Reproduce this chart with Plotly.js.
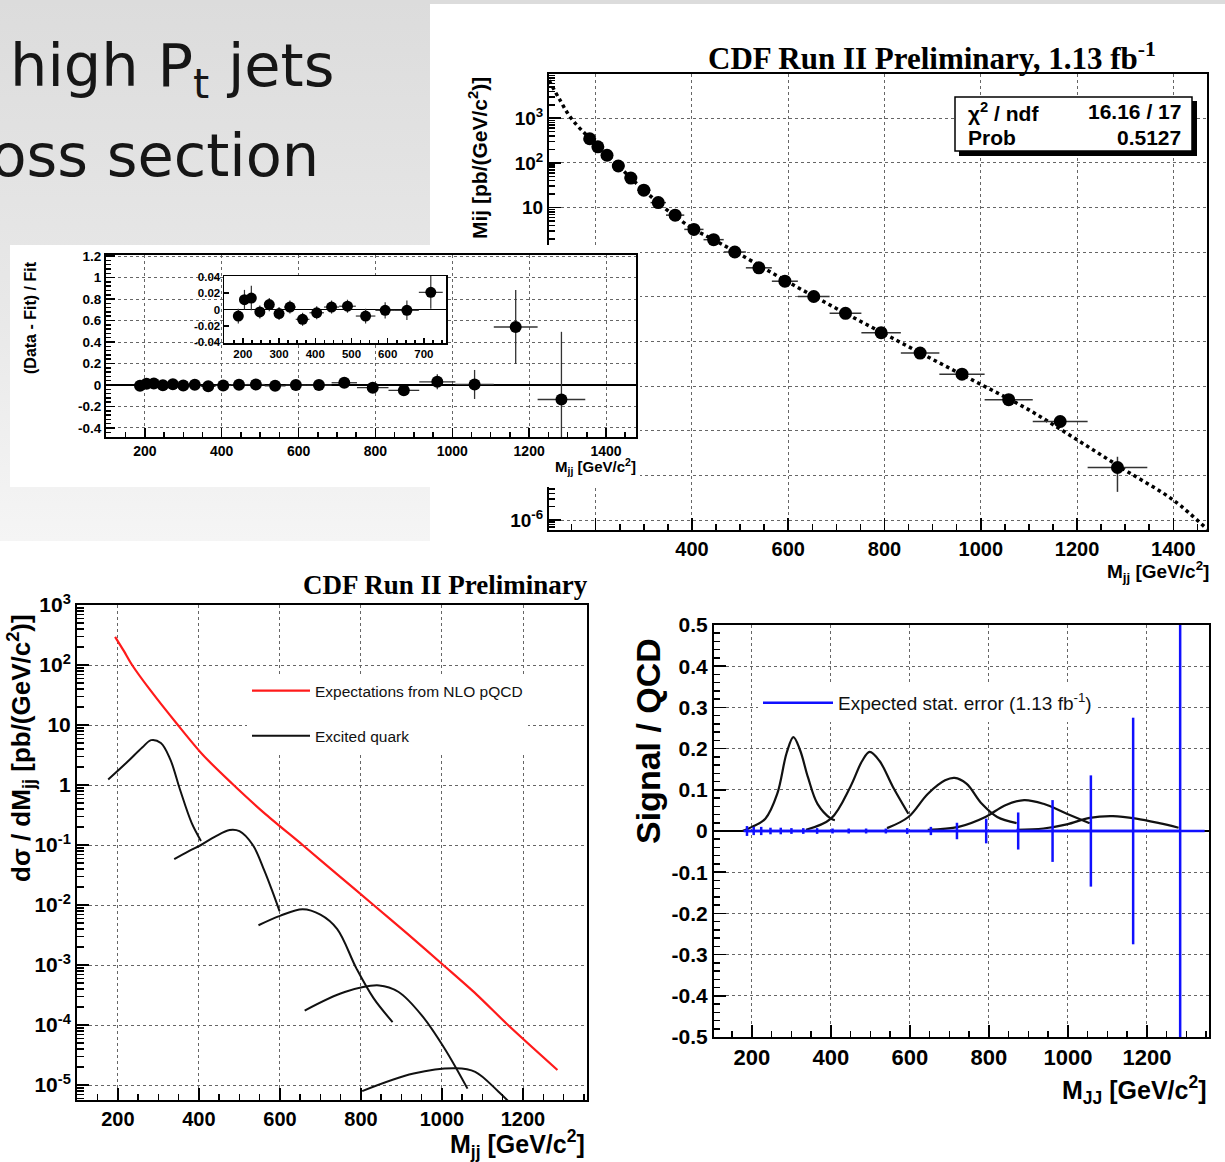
<!DOCTYPE html>
<html>
<head>
<meta charset="utf-8">
<script src="https://cdn.plot.ly/plotly-3.0.1.min.js"></script>
<style>
html,body{margin:0;padding:0;background:#ffffff;width:1225px;height:1162px;overflow:hidden;}
#slidebg{position:absolute;left:0;top:0;width:430px;height:541px;background:linear-gradient(#dcdcdc,#e9e9e9 60%,#f5f5f5);}
#topstrip{position:absolute;left:0;top:0;width:1225px;height:4px;background:#dcdcdc;}
#chart{position:absolute;left:0;top:0;width:1225px;height:1162px;}
</style>
</head>
<body>
<div id="slidebg"></div><div id="topstrip"></div>
<div id="chart"></div>
<script>
// ---------------- DATA ----------------
// dijet mass bins (GeV/c^2): centres and half widths
const massCenter    = [187.5, 204.5, 223.5, 247, 273, 300, 330, 365, 404, 445, 489, 539, 593, 653, 719, 793, 874, 961, 1058, 1165, 1284];
const massHalfWidth = [8.5, 8.5, 10.5, 13, 13, 14, 16, 19, 20, 21, 23, 27, 27, 33, 33, 41, 40, 47, 50, 57, 62];

// measured dσ/dMjj (pb/(GeV/c^2)) and errors
const xsecValue   = [347, 229, 148, 85.1, 45.7, 24.5, 12.9, 6.76, 3.24, 1.91, 1.01, 0.447, 0.224, 0.102, 0.0427, 0.0158, 0.0055, 0.00186, 0.00050, 0.000162, 0.0000151];
const xsecErrUp   = [2.3, 1.8, 1.9, 0.4, 0.23, 0.13, 0.07, 0.036, 0.019, 0.011, 0.0055, 0.003, 0.0017, 0.0009, 0.00066, 0.00033, 0.00018, 0.00013, 0.000069, 0.000036, 0.0000112];
const xsecErrDown = [2.3, 1.8, 1.9, 0.4, 0.23, 0.13, 0.07, 0.036, 0.019, 0.011, 0.0055, 0.003, 0.0017, 0.0009, 0.00066, 0.00033, 0.00018, 0.00013, 0.000069, 0.000036, 0.0000108];

// fit curve
const fitMass  = [103, 125, 149, 190, 250, 300, 350, 400, 450, 500, 600, 700, 800, 900, 1000, 1100, 1200, 1300, 1400, 1470];
const fitValue = [7080, 2630, 1000, 331, 79.4, 24.5, 8.51, 3.47, 1.78, 0.891, 0.214, 0.055, 0.0148, 0.00398, 0.0011, 0.000295, 0.0000631, 0.0000132, 0.00000282, 0.00000063];

// (Data - Fit) / Fit
const residValue = [-0.008, 0.012, 0.014, -0.003, 0.006, -0.005, 0.003, -0.012, -0.004, 0.003, 0.004, -0.008, -0.001, -0.001, 0.021, -0.025, -0.05, 0.03, 0.005, 0.54, -0.135];
const residErr   = [0.009, 0.012, 0.015, 0.008, 0.008, 0.008, 0.008, 0.008, 0.008, 0.008, 0.008, 0.009, 0.01, 0.012, 0.02, 0.022, 0.03, 0.07, 0.135, 0.345, 0.63];

// NLO pQCD expectation
const qcdMass = [193, 215, 235, 280, 348, 410, 481, 560, 656, 740, 831, 915, 1003, 1085, 1163, 1285];
const qcdXsec = [295, 170, 100, 38, 10, 3.16, 1.07, 0.347, 0.1, 0.0331, 0.01, 0.00331, 0.001, 0.000324, 0.0001, 0.0000178];

// excited quark signals
const qstarAMass = [176, 221, 260, 282, 306, 329, 353, 382, 405];
const qstarAXsec = [1.23, 2.34, 4.2, 5.6, 5.0, 2.7, 0.85, 0.234, 0.117];
const qstarBMass = [339, 375, 405, 440, 476, 500, 533, 561, 580, 599];
const qstarBXsec = [0.058, 0.079, 0.1, 0.138, 0.178, 0.17, 0.1, 0.038, 0.0178, 0.0079];
const qstarCMass = [547, 600, 656, 700, 741, 789, 831, 878];
const qstarCXsec = [0.0046, 0.0066, 0.0085, 0.0069, 0.004, 0.00087, 0.00028, 0.000112];
const qstarDMass = [661, 760, 845, 893, 950, 1006, 1063];
const qstarDXsec = [0.000174, 0.000355, 0.000457, 0.000355, 0.000145, 0.000041, 0.0000087];
const qstarEMass = [803, 930, 1034, 1082, 1139, 1175];
const qstarEXsec = [0.0000079, 0.0000155, 0.000019, 0.0000166, 0.0000078, 0.0000045];

// Signal / QCD
const ratioAMass = [176, 200, 234, 264, 288, 305, 322, 342, 366, 400, 410];
const ratioA     = [0, 0.01, 0.03, 0.09, 0.19, 0.228, 0.196, 0.13, 0.066, 0.03, 0.026];
const ratioBMass = [337, 400, 449, 479, 498, 523, 557, 596];
const ratioB     = [0.003, 0.03, 0.107, 0.17, 0.192, 0.17, 0.107, 0.042];
const ratioCMass = [542, 596, 645, 689, 713, 743, 782, 821, 870];
const ratioC     = [0.007, 0.034, 0.09, 0.123, 0.129, 0.115, 0.066, 0.034, 0.019];
const ratioDMass = [645, 723, 791, 840, 889, 938, 997, 1055];
const ratioD     = [0.003, 0.01, 0.034, 0.062, 0.075, 0.066, 0.042, 0.019];
const ratioEMass = [870, 938, 997, 1055, 1114, 1173, 1231, 1280];
const ratioE     = [0.003, 0.006, 0.016, 0.032, 0.036, 0.03, 0.019, 0.008];

// expected statistical error (1.13 fb^-1)
const statCenter = [0, 0, 0, 0, 0, 0, 0, 0, 0, 0, 0, 0, 0, 0, 0, 0, 0, 0, 0, 0, 0];
const statErr    = [0.012, 0.01, 0.01, 0.008, 0.008, 0.007, 0.007, 0.007, 0.006, 0.006, 0.006, 0.006, 0.007, 0.01, 0.02, 0.03, 0.045, 0.075, 0.135, 0.275, 0.62];

// tick values / labels
const massTicks      = [200, 400, 600, 800, 1000, 1200, 1400];
const massLabels     = ['200', '400', '600', '800', '1000', '1200', '1400'];
const massLabelsTop  = ['', '400', '600', '800', '1000', '1200', '1400'];
const massTicks6     = [200, 400, 600, 800, 1000, 1200];
const massLabels6    = ['200', '400', '600', '800', '1000', '1200'];
const innerTicks     = [200, 300, 400, 500, 600, 700];
const innerLabels    = ['200', '300', '400', '500', '600', '700'];
const decadeTicksTop = [1e-6, 1e-5, 1e-4, 1e-3, 1e-2, 1e-1, 1, 10, 100, 1000];
const decadeLabelsTop= ['10<sup>-6</sup>', '10<sup>-5</sup>', '10<sup>-4</sup>', '10<sup>-3</sup>', '10<sup>-2</sup>', '10<sup>-1</sup>', '1', '10', '10<sup>2</sup>', '10<sup>3</sup>'];
const decadeTicksBL  = [1e-5, 1e-4, 1e-3, 1e-2, 1e-1, 1, 10, 100, 1000];
const decadeLabelsBL = ['10<sup>-5</sup>', '10<sup>-4</sup>', '10<sup>-3</sup>', '10<sup>-2</sup>', '10<sup>-1</sup>', '1', '10', '10<sup>2</sup>', '10<sup>3</sup>'];
const residTicks     = [-0.4, -0.2, 0, 0.2, 0.4, 0.6, 0.8, 1, 1.2];
const residLabels    = ['-0.4', '-0.2', '0', '0.2', '0.4', '0.6', '0.8', '1', '1.2'];
const innerYTicks    = [-0.04, -0.02, 0, 0.02, 0.04];
const innerYLabels   = ['-0.04', '-0.02', '0', '0.02', '0.04'];
const ratioTicks     = [-0.5, -0.4, -0.3, -0.2, -0.1, 0, 0.1, 0.2, 0.3, 0.4, 0.5];
const ratioLabels    = ['-0.5', '-0.4', '-0.3', '-0.2', '-0.1', '0', '0.1', '0.2', '0.3', '0.4', '0.5'];

// ---------------- LAYOUT HELPERS ----------------
const W = 1225, H = 1162;
const px = x => x / W;
const py = y => 1 - y / H;
const SANS = 'Liberation Sans, Arial, Helvetica, sans-serif';
const SERIF = 'Liberation Serif, Times New Roman, serif';
const SLIDE = 'DejaVu Sans, sans-serif';

function frame(extra) {
  return Object.assign({
    showline: true, linecolor: 'black', linewidth: 2, mirror: true,
    ticks: 'inside', tickcolor: 'black', tickwidth: 1.5,
    showgrid: true, gridcolor: '#666', griddash: 'dot', gridwidth: 1,
    zeroline: false, fixedrange: true, tickmode: 'array'
  }, extra);
}
function tf(size) { return {family: SANS, size: size, color: 'black', weight: 'bold'}; }
function ann(text, x, y, o) {
  o = o || {};
  return {
    text: text, x: px(x), y: py(y), xref: 'paper', yref: 'paper', showarrow: false,
    xanchor: o.xa || 'center', yanchor: o.ya || 'middle', textangle: o.angle || 0,
    font: {family: o.family || SANS, size: o.size || 14, color: o.color || 'black', weight: o.weight || 'bold'}
  };
}

// ---------------- TRACES ----------------
const traces = [];
// 1) top right: cross section with fit
traces.push({type: 'scatter', mode: 'lines', x: fitMass, y: fitValue, xaxis: 'x', yaxis: 'y',
  line: {color: 'black', width: 3.5, dash: 'dot', shape: 'spline'}, showlegend: false, hoverinfo: 'skip'});
traces.push({type: 'scatter', mode: 'markers', x: massCenter, y: xsecValue, xaxis: 'x', yaxis: 'y',
  marker: {color: 'black', size: 13},
  error_x: {type: 'data', array: massHalfWidth, color: '#333', thickness: 1.5, width: 0},
  error_y: {type: 'data', symmetric: false, array: xsecErrUp, arrayminus: xsecErrDown, color: '#333', thickness: 1.5, width: 0},
  showlegend: false, hoverinfo: 'skip'});
// 2) cover panel behind the residual inset
traces.push({type: 'scatter', mode: 'markers', x: [], y: [], xaxis: 'x2', yaxis: 'y2', showlegend: false, hoverinfo: 'skip'});
// 3) residuals
traces.push({type: 'scatter', mode: 'markers', x: massCenter, y: residValue, xaxis: 'x3', yaxis: 'y3',
  marker: {color: 'black', size: 12},
  error_x: {type: 'data', array: massHalfWidth, color: '#333', thickness: 1.3, width: 0},
  error_y: {type: 'data', array: residErr, color: '#333', thickness: 1.3, width: 0},
  showlegend: false, hoverinfo: 'skip'});
// 4) zoomed residuals
traces.push({type: 'scatter', mode: 'markers', x: massCenter.slice(0, 15), y: residValue.slice(0, 15), xaxis: 'x4', yaxis: 'y4',
  marker: {color: 'black', size: 11},
  error_x: {type: 'data', array: massHalfWidth.slice(0, 15), color: '#333', thickness: 1.2, width: 0},
  error_y: {type: 'data', array: residErr.slice(0, 15), color: '#333', thickness: 1.2, width: 0},
  showlegend: false, hoverinfo: 'skip'});
// 5) bottom left: NLO and excited quarks
traces.push({type: 'scatter', mode: 'lines', x: qcdMass, y: qcdXsec, xaxis: 'x5', yaxis: 'y5',
  name: 'Expectations from NLO pQCD', legend: 'legend', legendgroup: 'nlo', showlegend: true,
  line: {color: '#ff1a1a', width: 2.2, shape: 'spline', smoothing: 0.8}, hoverinfo: 'skip'});
const qstarSets = [[qstarAMass, qstarAXsec], [qstarBMass, qstarBXsec], [qstarCMass, qstarCXsec], [qstarDMass, qstarDXsec], [qstarEMass, qstarEXsec]];
qstarSets.forEach((s, i) => traces.push({type: 'scatter', mode: 'lines', x: s[0], y: s[1], xaxis: 'x5', yaxis: 'y5',
  name: 'Excited quark', legend: 'legend', legendgroup: 'qstar', showlegend: i === 0,
  line: {color: '#111', width: 2, shape: 'spline'}, hoverinfo: 'skip'}));
// 6) bottom right: Signal / QCD
const ratioSets = [[ratioAMass, ratioA], [ratioBMass, ratioB], [ratioCMass, ratioC], [ratioDMass, ratioD], [ratioEMass, ratioE]];
ratioSets.forEach(s => traces.push({type: 'scatter', mode: 'lines', x: s[0], y: s[1], xaxis: 'x6', yaxis: 'y6',
  showlegend: false, line: {color: '#111', width: 2.2, shape: 'spline'}, hoverinfo: 'skip'}));
traces.push({type: 'scatter', mode: 'lines', x: massCenter, y: statCenter, xaxis: 'x6', yaxis: 'y6',
  name: 'Expected stat. error (1.13 fb<sup>-1</sup>)', legend: 'legend2', showlegend: true,
  line: {color: '#1010ff', width: 2.5},
  error_x: {type: 'data', array: massHalfWidth, color: '#1010ff', thickness: 2.5, width: 0},
  error_y: {type: 'data', array: statErr, color: '#1010ff', thickness: 2.5, width: 0},
  hoverinfo: 'skip'});

// ---------------- LAYOUT ----------------
const layout = {
  width: W, height: H, margin: {l: 0, r: 0, t: 0, b: 0},
  paper_bgcolor: 'rgba(0,0,0,0)', plot_bgcolor: 'white',
  hovermode: false, showlegend: true,
  xaxis: frame({domain: [px(549), px(1207)], anchor: 'y', range: [103, 1470],
    tickvals: massTicks, ticktext: massLabelsTop, ticklen: 12, tickfont: tf(20),
    minor: {tickmode: 'linear', tick0: 0, dtick: 50, ticks: 'inside', ticklen: 6, tickcolor: 'black', showgrid: false}}),
  yaxis: frame({domain: [py(530), py(74)], anchor: 'x', type: 'log', range: [-6.22, 3.99],
    tickvals: decadeTicksTop, ticktext: decadeLabelsTop, ticklen: 12, tickfont: tf(19),
    minor: {ticks: 'inside', ticklen: 6, tickcolor: 'black', dtick: 'D1', showgrid: false}}),
  xaxis2: {domain: [px(10), px(640)], anchor: 'y2', visible: false, range: [0, 1], fixedrange: true},
  yaxis2: {domain: [py(487), py(245)], anchor: 'x2', visible: false, range: [0, 1], fixedrange: true},
  xaxis3: frame({domain: [px(106), px(636)], anchor: 'y3', range: [99, 1478],
    tickvals: massTicks, ticktext: massLabels, ticklen: 9, tickfont: tf(14),
    minor: {tickmode: 'linear', tick0: 0, dtick: 50, ticks: 'inside', ticklen: 5, tickcolor: 'black', showgrid: false}}),
  yaxis3: frame({domain: [py(437), py(255)], anchor: 'x3', range: [-0.484, 1.21],
    tickvals: residTicks, ticktext: residLabels, ticklen: 9, tickfont: tf(13.5),
    zeroline: true, zerolinecolor: 'black', zerolinewidth: 1.2,
    minor: {tickmode: 'linear', tick0: 0, dtick: 0.04, ticks: 'inside', ticklen: 5, tickcolor: 'black', showgrid: false}}),
  xaxis4: frame({domain: [px(224), px(446)], anchor: 'y4', range: [148, 761], showgrid: false,
    tickvals: innerTicks, ticktext: innerLabels, ticklen: 5, tickfont: tf(11.5), linewidth: 1.5,
    minor: {tickmode: 'linear', tick0: 0, dtick: 25, ticks: 'inside', ticklen: 3, tickcolor: 'black', showgrid: false}}),
  yaxis4: frame({domain: [py(343), py(276)], anchor: 'x4', range: [-0.041, 0.041], showgrid: false,
    tickvals: innerYTicks, ticktext: innerYLabels, ticklen: 5, tickfont: tf(11.5), linewidth: 1.5,
    zeroline: true, zerolinecolor: 'black', zerolinewidth: 1}),
  xaxis5: frame({domain: [px(77), px(587)], anchor: 'y5', range: [99, 1358],
    tickvals: massTicks6, ticktext: massLabels6, ticklen: 12, tickfont: tf(20),
    minor: {tickmode: 'linear', tick0: 0, dtick: 50, ticks: 'inside', ticklen: 6, tickcolor: 'black', showgrid: false}}),
  yaxis5: frame({domain: [py(1100), py(605)], anchor: 'x5', type: 'log', range: [-5.25, 3.0],
    tickvals: decadeTicksBL, ticktext: decadeLabelsBL, ticklen: 12, tickfont: tf(21),
    minor: {ticks: 'inside', ticklen: 7, tickcolor: 'black', dtick: 'D1', showgrid: false}}),
  xaxis6: frame({domain: [px(714), px(1209)], anchor: 'y6', range: [104, 1357],
    tickvals: massTicks6, ticktext: massLabels6, ticklen: 12, tickfont: tf(22),
    minor: {tickmode: 'linear', tick0: 0, dtick: 50, ticks: 'inside', ticklen: 6, tickcolor: 'black', showgrid: false}}),
  yaxis6: frame({domain: [py(1037), py(625)], anchor: 'x6', range: [-0.5, 0.5],
    tickvals: ratioTicks, ticktext: ratioLabels, ticklen: 12, tickfont: tf(21),
    zeroline: true, zerolinecolor: 'black', zerolinewidth: 1.5,
    minor: {tickmode: 'linear', tick0: 0, dtick: 0.02, ticks: 'inside', ticklen: 6, tickcolor: 'black', showgrid: false}}),
  legend: {x: px(247), y: py(674), xanchor: 'left', yanchor: 'top', bgcolor: 'white', borderwidth: 0,
    font: {family: SANS, size: 15.5, color: '#111'}, itemwidth: 58, traceorder: 'grouped', tracegroupgap: 22},
  legend2: {x: px(758), y: py(684), xanchor: 'left', yanchor: 'top', bgcolor: 'white', borderwidth: 0,
    font: {family: SANS, size: 19, color: '#111'}, itemwidth: 70},
  shapes: [
    {type: 'rect', xref: 'x4', yref: 'y4', x0: 148, x1: 761, y0: -0.041, y1: 0.041, fillcolor: 'white', line: {width: 0}, layer: 'below'},
    {type: 'rect', xref: 'paper', yref: 'paper', x0: px(959), x1: px(1197), y0: py(156), y1: py(101), fillcolor: 'black', line: {width: 0}, layer: 'above'},
    {type: 'rect', xref: 'paper', yref: 'paper', x0: px(955), x1: px(1192), y0: py(151), y1: py(97), fillcolor: 'white', line: {color: 'black', width: 1.5}, layer: 'above'}
  ],
  annotations: [
    ann('high P<sub>t</sub> jets', 337, 70, {xa: 'right', family: SLIDE, size: 59, color: '#161616', weight: 'normal'}),
    ann('cross section', 321, 155, {xa: 'right', family: SLIDE, size: 59, color: '#161616', weight: 'normal'}),
    ann('CDF Run II Preliminary, 1.13 fb<sup>-1</sup>', 932, 56, {family: SERIF, size: 31}),
    ann('Mij [pb/(GeV/c<sup>2</sup>)]', 478, 158, {angle: -90, size: 21}),
    ann('M<sub>jj</sub> [GeV/c<sup>2</sup>]', 1211, 571, {xa: 'right', size: 19}),
    ann('χ<sup>2</sup> / ndf', 966, 112, {xa: 'left', size: 21}),
    ann('16.16 / 17', 1183, 111, {xa: 'right', size: 21}),
    ann('Prob', 966, 137, {xa: 'left', size: 21}),
    ann('0.5127', 1183, 137, {xa: 'right', size: 21}),
    ann('(Data - Fit) / Fit', 31, 318, {angle: -90, size: 16}),
    ann('M<sub>jj</sub> [GeV/c<sup>2</sup>]', 638, 466, {xa: 'right', size: 15}),
    ann('CDF Run II Preliminary', 590, 585, {xa: 'right', family: SERIF, size: 27}),
    ann('dσ / dM<sub>jj</sub> [pb/(GeV/c<sup>2</sup>)]', 21, 748, {angle: -90, size: 26}),
    ann('M<sub>jj</sub> [GeV/c<sup>2</sup>]', 587, 1144, {xa: 'right', size: 25}),
    ann('Signal / QCD', 648, 741, {angle: -90, size: 34}),
    ann('M<sub>JJ</sub> [GeV/c<sup>2</sup>]', 1209, 1090, {xa: 'right', size: 25})
  ]
};

Plotly.newPlot('chart', traces, layout, {staticPlot: true, displayModeBar: false});
</script>
</body>
</html>
